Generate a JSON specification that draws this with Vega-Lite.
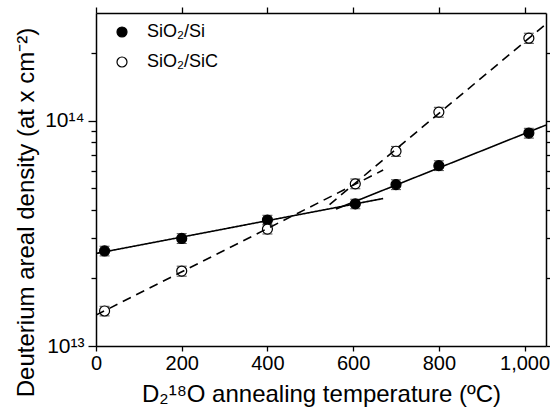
{
  "$schema": "https://vega.github.io/schema/vega-lite/v6.json",
  "width": 450,
  "height": 333,
  "autosize": {"type": "none"},
  "padding": {"left": 96, "top": 13, "right": 4, "bottom": 66},
  "background": "white",
  "config": {
    "view": {"stroke": null},
    "font": "Liberation Sans",
    "axis": {
      "grid": false,
      "domainColor": "black",
      "domainWidth": 1.5,
      "tickColor": "black",
      "tickWidth": 1.3,
      "labelColor": "black",
      "titleColor": "black",
      "labelFont": "Liberation Sans",
      "titleFont": "Liberation Sans",
      "titleFontWeight": "normal",
      "labelFontSize": 20,
      "titleFontSize": 24
    }
  },
  "datasets": {
    "measured": [
      {"sample": "SiO₂/Si", "temp": 20, "density": 2.64e13, "low": 2.51e13, "high": 2.77e13},
      {"sample": "SiO₂/Si", "temp": 200, "density": 3.0e13, "low": 2.85e13, "high": 3.15e13},
      {"sample": "SiO₂/Si", "temp": 400, "density": 3.62e13, "low": 3.44e13, "high": 3.8e13},
      {"sample": "SiO₂/Si", "temp": 605, "density": 4.27e13, "low": 4.06e13, "high": 4.48e13},
      {"sample": "SiO₂/Si", "temp": 700, "density": 5.2e13, "low": 4.94e13, "high": 5.46e13},
      {"sample": "SiO₂/Si", "temp": 800, "density": 6.31e13, "low": 6.0e13, "high": 6.63e13},
      {"sample": "SiO₂/Si", "temp": 1010, "density": 8.8e13, "low": 8.36e13, "high": 9.24e13},
      {"sample": "SiO₂/SiC", "temp": 20, "density": 1.43e13, "low": 1.36e13, "high": 1.5e13},
      {"sample": "SiO₂/SiC", "temp": 200, "density": 2.15e13, "low": 2.04e13, "high": 2.26e13},
      {"sample": "SiO₂/SiC", "temp": 400, "density": 3.3e13, "low": 3.14e13, "high": 3.47e13},
      {"sample": "SiO₂/SiC", "temp": 605, "density": 5.24e13, "low": 4.98e13, "high": 5.5e13},
      {"sample": "SiO₂/SiC", "temp": 700, "density": 7.31e13, "low": 6.94e13, "high": 7.68e13},
      {"sample": "SiO₂/SiC", "temp": 800, "density": 1.09e14, "low": 1.035e14, "high": 1.145e14},
      {"sample": "SiO₂/SiC", "temp": 1010, "density": 2.32e14, "low": 2.2e14, "high": 2.44e14}
    ],
    "fits": [
      {"segment": "Si low", "style": "solid", "temp": 0, "density": 2.573e13},
      {"segment": "Si low", "style": "solid", "temp": 670, "density": 4.51e13},
      {"segment": "Si high", "style": "solid", "temp": 560, "density": 4.05e13},
      {"segment": "Si high", "style": "solid", "temp": 1050, "density": 9.55e13},
      {"segment": "SiC low", "style": "dashed", "temp": 0, "density": 1.371e13},
      {"segment": "SiC low", "style": "dashed", "temp": 670, "density": 6.03e13},
      {"segment": "SiC high", "style": "dashed", "temp": 545, "density": 4.24e13},
      {"segment": "SiC high", "style": "dashed", "temp": 1050, "density": 2.68e14}
    ]
  },
  "layer": [
    {
      "data": {"name": "measured"},
      "mark": {"type": "errorbar", "ticks": {"size": 10, "color": "black", "strokeWidth": 1.2}, "color": "black", "strokeWidth": 1.2},
      "encoding": {
        "x": {"field": "temp", "type": "quantitative", "scale": {"domain": [0, 1050], "nice": false, "zero": false}, "axis": null},
        "y": {"field": "low", "type": "quantitative", "scale": {"type": "log", "domain": [1e13, 3e14], "nice": false}, "axis": null},
        "y2": {"field": "high"}
      }
    },
    {
      "data": {"name": "measured"},
      "mark": {"type": "point", "shape": "circle", "size": 100, "stroke": "black", "strokeWidth": 1.2, "opacity": 1},
      "encoding": {
        "x": {
          "field": "temp", "type": "quantitative",
          "scale": {"domain": [0, 1050], "nice": false, "zero": false},
          "axis": {
            "orient": "bottom",
            "values": [0, 200, 400, 600, 800, 1000],
            "tickSize": 5,
            "labelPadding": 2,
            "labelFlush": false,
            "title": "D₂¹⁸O annealing temperature (ºC)",
            "titleBaseline": "alphabetic",
            "titleY": 55
          }
        },
        "y": {
          "field": "density", "type": "quantitative",
          "scale": {"type": "log", "domain": [1e13, 3e14], "nice": false},
          "axis": {
            "orient": "left",
            "values": [1e13, 2e13, 3e13, 4e13, 5e13, 6e13, 7e13, 8e13, 9e13, 1e14, 2e14],
            "labelExpr": "datum.value == 1e13 ? '10¹³' : (datum.value == 1e14 ? '10¹⁴' : '')",
            "tickSize": {"condition": {"test": "datum.value == 1e13 || datum.value == 1e14", "value": 8}, "value": 5},
            "labelPadding": 4,
            "labelFontSize": 21,
            "title": "Deuterium areal density (at x cm⁻²)",
            "titleBaseline": "alphabetic",
            "titleX": -63,
            "titleY": 199
          }
        },
        "fill": {
          "field": "sample", "type": "nominal",
          "scale": {"domain": ["SiO₂/Si", "SiO₂/SiC"], "range": ["black", "white"]},
          "legend": {
            "orient": "none",
            "legendX": 17,
            "legendY": 10,
            "title": null,
            "padding": 0,
            "symbolType": "circle",
            "symbolSize": 100,
            "symbolStrokeColor": "black",
            "symbolStrokeWidth": 1.2,
            "symbolDash": [],
            "labelFont": "Liberation Sans",
            "labelFontSize": 18,
            "labelColor": "black",
            "labelOffset": 16,
            "rowPadding": 12
          }
        }
      }
    },
    {
      "data": {"name": "fits"},
      "mark": {"type": "line", "color": "black", "strokeWidth": 1.6, "clip": true},
      "encoding": {
        "x": {
          "field": "temp", "type": "quantitative",
          "scale": {"domain": [0, 1050], "nice": false, "zero": false},
          "axis": {"orient": "top", "values": [0, 200, 400, 600, 800, 1000], "labels": false, "tickSize": 6, "title": null}
        },
        "y": {
          "field": "density", "type": "quantitative",
          "scale": {"type": "log", "domain": [1e13, 3e14], "nice": false},
          "axis": {"orient": "right", "values": [1e13, 2e13, 3e13, 4e13, 5e13, 6e13, 7e13, 8e13, 9e13, 1e14, 2e14], "labels": false, "tickSize": 4, "title": null}
        },
        "detail": {"field": "segment"},
        "strokeDash": {
          "field": "style", "type": "nominal",
          "scale": {"domain": ["solid", "dashed"], "range": [[1, 0], [9, 6]]},
          "legend": null
        }
      }
    }
  ],
  "resolve": {"axis": {"x": "independent", "y": "independent"}}
}
